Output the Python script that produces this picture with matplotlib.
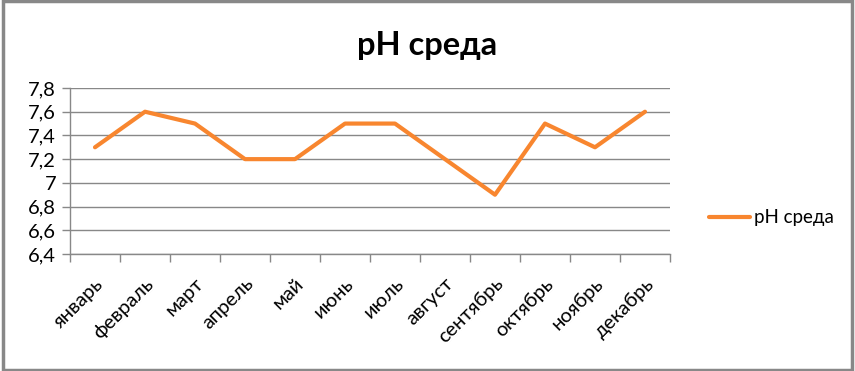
import matplotlib.pyplot as plt
from matplotlib.patches import Rectangle

# data
months = ["январь", "февраль", "март", "апрель", "май", "июнь",
          "июль", "август", "сентябрь", "октябрь", "ноябрь", "декабрь"]
ph_values = [7.3, 7.6, 7.5, 7.2, 7.2, 7.5, 7.5, 7.2, 6.9, 7.5, 7.3, 7.6]
y_ticks = [6.4, 6.6, 6.8, 7.0, 7.2, 7.4, 7.6, 7.8]
series_name = "pH среда"

plt.rcParams["font.family"] = ["Lato", "DejaVu Sans"]

fig = plt.figure(figsize=(8.55, 3.71), dpi=100)
ax = fig.add_axes([70 / 855, 1 - 254 / 371, 600 / 855, 166 / 371])

x = list(range(len(months)))
line, = ax.plot(x, ph_values, color="#F8862F", linewidth=3,
                solid_capstyle="round", solid_joinstyle="round", label=series_name)

# axes
grey = "#888888"
ax.set_xlim(-0.5, len(months) - 0.5)
ax.set_ylim(6.4, 7.8)
ax.set_yticks(y_ticks)
ax.set_yticklabels([("%g" % v).replace(".", ",") for v in y_ticks], fontsize=14.5)
ax.yaxis.grid(True, color=grey, linewidth=1)
ax.set_axisbelow(True)

ax.set_xticks([i - 0.5 for i in range(len(months) + 1)])
ax.set_xticklabels([])
ax.set_xticks(x, minor=True)
ax.set_xticklabels(months, minor=True, rotation=45, ha="right",
                   rotation_mode="anchor", fontsize=14.5)
ax.tick_params(axis="x", which="minor", length=0, pad=15)
ax.tick_params(axis="x", which="major", length=6, color=grey, width=1)
ax.tick_params(axis="y", length=6, color=grey, width=1, pad=4)

for s in ["top", "right"]:
    ax.spines[s].set_visible(False)
for s in ["left", "bottom"]:
    ax.spines[s].set_color(grey)
    ax.spines[s].set_linewidth(1)

# title and legend
fig.text(427 / 855, 1 - 45 / 371, series_name, ha="center", va="center",
         fontsize=23.5, fontweight="bold")
fig.legend(handles=[line], loc="center left", bbox_to_anchor=(692 / 855, 1 - 218 / 371),
           frameon=False, fontsize=13.5, handlelength=2.2, handletextpad=0.2)

# outer border
fig.patches.append(Rectangle((0.003, 0.004), 0.994, 0.992, transform=fig.transFigure,
                             fill=False, edgecolor=grey, linewidth=2.5))

fig.savefig("out.png", dpi=100, facecolor="white")
